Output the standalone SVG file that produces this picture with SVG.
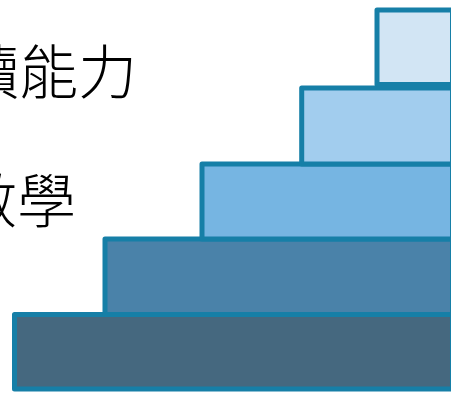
<svg xmlns="http://www.w3.org/2000/svg" width="451" height="393" viewBox="0 0 451 393">
<style>
.step{stroke:#167FA7;stroke-width:5;stroke-linejoin:round}
.lbl{font-family:"Noto Sans CJK TC","Noto Sans CJK SC",sans-serif;font-size:59px;font-weight:300;fill:#000}
</style>
<rect width="451" height="393" fill="#fff"/>
<g id="label-reading"><text class="lbl" x="-40" y="94">讀能力</text></g>
<g id="label-math"><text class="lbl" x="-42" y="223">數學</text></g>
<g id="step5"><rect class="step" x="14.5" y="314.5" width="438" height="74.5" fill="#45687F"/></g>
<g id="step4"><rect class="step" x="105" y="239" width="347.5" height="75.5" fill="#4A82A9"/></g>
<g id="step3"><rect class="step" x="202" y="164" width="250.5" height="75" fill="#76B5E2"/></g>
<g id="step2"><rect class="step" x="301.7" y="88" width="150.8" height="76" fill="#A2CDEE"/></g>
<g id="step1"><rect class="step" x="377" y="10" width="75.5" height="74.5" fill="#D2E5F4"/></g>
<g id="connectors"></g>
</svg>
